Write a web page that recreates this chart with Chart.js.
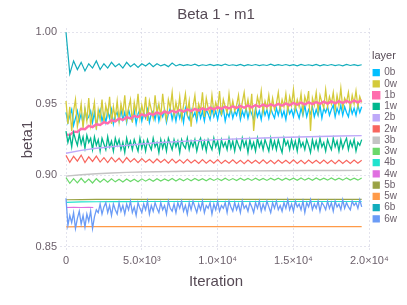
<!DOCTYPE html>
<html>
<head>
<meta charset="utf-8">
<script src="https://cdn.jsdelivr.net/npm/chart.js@4"></script>
<style>
  html, body { margin: 0; padding: 0; background: #fff; }
  #wrap { width: 407px; height: 305px; }
</style>
</head>
<body>
<div id="wrap"><canvas id="my-chart" width="407" height="305"></canvas></div>
<script>
// iterations for the very noisy series (every 125 steps)
const itersFine = [
  0, 125, 250, 375, 500, 625, 750, 875, 1000, 1125,
  1250, 1375, 1500, 1625, 1750, 1875, 2000, 2125, 2250, 2375,
  2500, 2625, 2750, 2875, 3000, 3125, 3250, 3375, 3500, 3625,
  3750, 3875, 4000, 4125, 4250, 4375, 4500, 4625, 4750, 4875,
  5000, 5125, 5250, 5375, 5500, 5625, 5750, 5875, 6000, 6125,
  6250, 6375, 6500, 6625, 6750, 6875, 7000, 7125, 7250, 7375,
  7500, 7625, 7750, 7875, 8000, 8125, 8250, 8375, 8500, 8625,
  8750, 8875, 9000, 9125, 9250, 9375, 9500, 9625, 9750, 9875,
  10000, 10125, 10250, 10375, 10500, 10625, 10750, 10875, 11000, 11125,
  11250, 11375, 11500, 11625, 11750, 11875, 12000, 12125, 12250, 12375,
  12500, 12625, 12750, 12875, 13000, 13125, 13250, 13375, 13500, 13625,
  13750, 13875, 14000, 14125, 14250, 14375, 14500, 14625, 14750, 14875,
  15000, 15125, 15250, 15375, 15500, 15625, 15750, 15875, 16000, 16125,
  16250, 16375, 16500, 16625, 16750, 16875, 17000, 17125, 17250, 17375,
  17500, 17625, 17750, 17875, 18000, 18125, 18250, 18375, 18500, 18625,
  18750, 18875, 19000, 19125, 19250, 19375, 19500
];
// iterations for the calmer series (every 250 steps)
const iterations = [
  0, 250, 500, 750, 1000, 1250, 1500, 1750, 2000, 2250,
  2500, 2750, 3000, 3250, 3500, 3750, 4000, 4250, 4500, 4750,
  5000, 5250, 5500, 5750, 6000, 6250, 6500, 6750, 7000, 7250,
  7500, 7750, 8000, 8250, 8500, 8750, 9000, 9250, 9500, 9750,
  10000, 10250, 10500, 10750, 11000, 11250, 11500, 11750, 12000, 12250,
  12500, 12750, 13000, 13250, 13500, 13750, 14000, 14250, 14500, 14750,
  15000, 15250, 15500, 15750, 16000, 16250, 16500, 16750, 17000, 17250,
  17500, 17750, 18000, 18250, 18500, 18750, 19000, 19250, 19500
];
// iterations for the smooth series
const itersCoarse = [0, 1000, 2000, 3000, 4000, 5000, 6000, 8000, 10000, 12000, 14000, 16000, 18000, 19500];
const itersShort = [0, 500, 1000, 1500, 1800];

const layers = ["0b", "0w", "1b", "1w", "2b", "2w", "3b", "3w", "4b", "4w", "5b", "5w", "6b", "6w"];

const beta0b = [
  0.944, 0.937, 0.942, 0.946, 0.935, 0.940, 0.945, 0.938, 0.943, 0.936,
  0.946, 0.939, 0.941, 0.945, 0.937, 0.944, 0.934, 0.942, 0.946, 0.938,
  0.943, 0.937, 0.945, 0.940, 0.946, 0.936, 0.942, 0.944, 0.938, 0.946,
  0.939, 0.944, 0.937, 0.946, 0.941, 0.938, 0.945, 0.936, 0.943, 0.946,
  0.938, 0.944, 0.940, 0.946, 0.937, 0.943, 0.945, 0.939, 0.947, 0.938,
  0.944, 0.941, 0.946, 0.937, 0.943, 0.947, 0.939, 0.945, 0.938, 0.946,
  0.940, 0.945, 0.937, 0.947, 0.942, 0.939, 0.946, 0.941, 0.944, 0.938,
  0.947, 0.940, 0.945, 0.938, 0.946, 0.943, 0.939, 0.947, 0.941, 0.945,
  0.939, 0.946, 0.942, 0.947, 0.938, 0.944, 0.941, 0.947, 0.940, 0.945,
  0.942, 0.948, 0.939, 0.945, 0.941, 0.947, 0.940, 0.946, 0.943, 0.939,
  0.947, 0.941, 0.945, 0.939, 0.948, 0.942, 0.946, 0.940, 0.947, 0.943,
  0.940, 0.947, 0.942, 0.948, 0.941, 0.945, 0.939, 0.948, 0.943, 0.946,
  0.941, 0.948, 0.944, 0.940, 0.947, 0.942, 0.949, 0.941, 0.946, 0.943,
  0.948, 0.941, 0.946, 0.942, 0.949, 0.940, 0.947, 0.944, 0.948, 0.942,
  0.946, 0.949, 0.941, 0.947, 0.943, 0.949, 0.942, 0.948, 0.944, 0.941,
  0.949, 0.943, 0.947, 0.942, 0.949, 0.944, 0.948
];
const beta0w = [
  0.952, 0.936, 0.948, 0.931, 0.945, 0.953, 0.934, 0.941, 0.950, 0.933,
  0.947, 0.938, 0.954, 0.935, 0.943, 0.951, 0.932, 0.946, 0.939, 0.953,
  0.937, 0.949, 0.942, 0.955, 0.936, 0.948, 0.940, 0.952, 0.938, 0.950,
  0.943, 0.956, 0.939, 0.947, 0.953, 0.937, 0.951, 0.944, 0.957, 0.940,
  0.949, 0.942, 0.955, 0.938, 0.952, 0.946, 0.940, 0.956, 0.943, 0.950,
  0.941, 0.957, 0.945, 0.939, 0.953, 0.947, 0.958, 0.942, 0.951, 0.944,
  0.955, 0.940, 0.949, 0.957, 0.943, 0.952, 0.934, 0.948, 0.956, 0.942,
  0.950, 0.945, 0.958, 0.941, 0.954, 0.947, 0.943, 0.956, 0.944, 0.951,
  0.946, 0.959, 0.942, 0.953, 0.948, 0.944, 0.957, 0.945, 0.952, 0.945,
  0.949, 0.956, 0.943, 0.951, 0.958, 0.946, 0.953, 0.944, 0.957, 0.931,
  0.945, 0.955, 0.949, 0.959, 0.944, 0.952, 0.947, 0.956, 0.945, 0.954,
  0.946, 0.950, 0.958, 0.946, 0.953, 0.948, 0.957, 0.945, 0.955, 0.949,
  0.960, 0.946, 0.953, 0.948, 0.957, 0.944, 0.955, 0.950, 0.959, 0.931,
  0.954, 0.949, 0.958, 0.945, 0.956, 0.951, 0.947, 0.960, 0.948, 0.955,
  0.950, 0.958, 0.946, 0.956, 0.949, 0.961, 0.947, 0.954, 0.951, 0.958,
  0.947, 0.956, 0.950, 0.959, 0.948, 0.955, 0.951
];
const beta1b = [
  0.9287, 0.9282, 0.9306, 0.9304, 0.9326, 0.9323, 0.9347, 0.9338, 0.9357, 0.9352,
  0.9372, 0.9363, 0.9387, 0.9378, 0.9397, 0.9388, 0.9407, 0.9398, 0.9417, 0.9408,
  0.9427, 0.9416, 0.9433, 0.9423, 0.9440, 0.9429, 0.9447, 0.9435, 0.9452, 0.9441,
  0.9457, 0.9445, 0.9461, 0.9449, 0.9465, 0.9453, 0.9469, 0.9457, 0.9473, 0.9461,
  0.9477, 0.9465, 0.9480, 0.9468, 0.9483, 0.9471, 0.9486, 0.9473, 0.9489, 0.9476,
  0.9492, 0.9479, 0.9495, 0.9482, 0.9497, 0.9485, 0.9500, 0.9487, 0.9503, 0.9490,
  0.9507, 0.9494, 0.9509, 0.9496, 0.9511, 0.9498, 0.9513, 0.9500, 0.9515, 0.9502,
  0.9517, 0.9504, 0.9519, 0.9506, 0.9521, 0.9508, 0.9523, 0.9510, 0.9524
];
const beta1w = [
  0.931, 0.923, 0.928, 0.920, 0.930, 0.925, 0.921, 0.929, 0.922, 0.927,
  0.919, 0.928, 0.923, 0.926, 0.918, 0.927, 0.921, 0.925, 0.917, 0.926,
  0.922, 0.918, 0.927, 0.920, 0.924, 0.917, 0.926, 0.921, 0.925, 0.918,
  0.923, 0.916, 0.926, 0.920, 0.924, 0.918, 0.925, 0.921, 0.917, 0.926,
  0.919, 0.924, 0.917, 0.925, 0.921, 0.918, 0.926, 0.920, 0.923, 0.916,
  0.925, 0.919, 0.924, 0.917, 0.926, 0.922, 0.918, 0.925, 0.920, 0.924,
  0.916, 0.925, 0.921, 0.919, 0.926, 0.918, 0.924, 0.920, 0.925, 0.917,
  0.923, 0.926, 0.919, 0.924, 0.917, 0.925, 0.921, 0.918, 0.926, 0.920,
  0.924, 0.916, 0.925, 0.920, 0.923, 0.918, 0.926, 0.919, 0.924, 0.917,
  0.925, 0.921, 0.918, 0.926, 0.920, 0.924, 0.916, 0.925, 0.919, 0.923,
  0.917, 0.926, 0.920, 0.924, 0.918, 0.925, 0.921, 0.917, 0.926, 0.919,
  0.924, 0.918, 0.925, 0.920, 0.916, 0.926, 0.921, 0.924, 0.918, 0.925,
  0.919, 0.924, 0.917, 0.926, 0.920, 0.923, 0.918, 0.925, 0.921, 0.916,
  0.925, 0.919, 0.924, 0.918, 0.926, 0.920, 0.923, 0.917, 0.925, 0.921,
  0.918, 0.926, 0.920, 0.924, 0.917, 0.925, 0.919, 0.923, 0.926, 0.918,
  0.924, 0.920, 0.925, 0.917, 0.923, 0.921, 0.925
];
const beta2b = [0.9155, 0.9175, 0.9190, 0.9200, 0.9210, 0.9220, 0.9228, 0.9240, 0.9250, 0.9258, 0.9265, 0.9270, 0.9275, 0.9278];
const beta2w = [
  0.9140, 0.9092, 0.9133, 0.9100, 0.9142, 0.9090, 0.9130, 0.9098, 0.9135, 0.9093,
  0.9124, 0.9090, 0.9126, 0.9095, 0.9120, 0.9088, 0.9125, 0.9094, 0.9118, 0.9089,
  0.9117, 0.9093, 0.9113, 0.9087, 0.9115, 0.9090, 0.9112, 0.9086, 0.9114, 0.9088,
  0.9110, 0.9085, 0.9112, 0.9087, 0.9108, 0.9084, 0.9111, 0.9086, 0.9107, 0.9085,
  0.9110, 0.9083, 0.9106, 0.9086, 0.9109, 0.9084, 0.9105, 0.9082, 0.9108, 0.9085,
  0.9106, 0.9083, 0.9109, 0.9084, 0.9105, 0.9082, 0.9108, 0.9085, 0.9106, 0.9083,
  0.9109, 0.9084, 0.9105, 0.9082, 0.9107, 0.9085, 0.9106, 0.9083, 0.9108, 0.9084,
  0.9105, 0.9082, 0.9107, 0.9084, 0.9106, 0.9083, 0.9108, 0.9085, 0.9106
];
const beta3b = [0.8995, 0.9005, 0.9012, 0.9017, 0.9021, 0.9024, 0.9026, 0.9029, 0.9031, 0.9032, 0.9033, 0.9034, 0.9034, 0.9035];
const beta3w = [
  0.8985, 0.8945, 0.8978, 0.8948, 0.8980, 0.8950, 0.8975, 0.8947, 0.8977, 0.8952,
  0.8974, 0.8953, 0.8976, 0.8955, 0.8973, 0.8954, 0.8975, 0.8957, 0.8974, 0.8956,
  0.8976, 0.8960, 0.8975, 0.8959, 0.8977, 0.8961, 0.8976, 0.8962, 0.8978, 0.8961,
  0.8977, 0.8963, 0.8978, 0.8962, 0.8979, 0.8964, 0.8977, 0.8963, 0.8979, 0.8965,
  0.8978, 0.8964, 0.8980, 0.8965, 0.8978, 0.8964, 0.8980, 0.8966, 0.8979, 0.8965,
  0.8981, 0.8966, 0.8979, 0.8965, 0.8981, 0.8967, 0.8980, 0.8966, 0.8981, 0.8967,
  0.8980, 0.8966, 0.8982, 0.8967, 0.8980, 0.8966, 0.8982, 0.8968, 0.8981, 0.8967,
  0.8982, 0.8968, 0.8981, 0.8967, 0.8983, 0.8968, 0.8981, 0.8967, 0.8982
];
const beta4b = [0.8812, 0.8815, 0.8816, 0.8817, 0.8817, 0.8818, 0.8818, 0.8818, 0.8818, 0.8818, 0.8818, 0.8818, 0.8818, 0.8818];
const beta4w = [0.8776, 0.8777, 0.8776, 0.8777, 0.8776];
const beta5b = [0.8830, 0.8831, 0.8832, 0.8832, 0.8832, 0.8832, 0.8832, 0.8832, 0.8832, 0.8832, 0.8832, 0.8832, 0.8832, 0.8832];
const beta5w = [0.8641, 0.8642, 0.8642, 0.8642, 0.8642, 0.8642, 0.8642, 0.8642, 0.8642, 0.8642, 0.8642, 0.8642, 0.8642, 0.8642];
const beta6b = [
  1.000, 0.971, 0.980, 0.974, 0.979, 0.973, 0.978, 0.975, 0.980, 0.974,
  0.978, 0.975, 0.979, 0.976, 0.978, 0.975, 0.979, 0.976, 0.978, 0.9755,
  0.978, 0.9765, 0.9785, 0.976, 0.978, 0.9765, 0.9775, 0.976, 0.9785, 0.9765,
  0.9776, 0.9767, 0.9774, 0.9768, 0.9777, 0.9766, 0.9773, 0.9768, 0.9776, 0.9767,
  0.9774, 0.9767, 0.9778, 0.9768, 0.9773, 0.9767, 0.9776, 0.9766, 0.9774, 0.9768,
  0.9775, 0.9767, 0.9773, 0.9768, 0.9777, 0.9767, 0.9774, 0.9768, 0.9775, 0.9767,
  0.9774, 0.9766, 0.9776, 0.9768, 0.9773, 0.9767, 0.9775, 0.9766, 0.9774, 0.9768,
  0.9775, 0.9767, 0.9773, 0.9766, 0.9775, 0.9768, 0.9774, 0.9767, 0.9773
];
const beta6w = [
  0.884, 0.865, 0.872, 0.867, 0.874, 0.863, 0.870, 0.875, 0.866, 0.872,
  0.864, 0.873, 0.868, 0.875, 0.863, 0.871, 0.876, 0.874, 0.880, 0.873,
  0.878, 0.881, 0.874, 0.879, 0.872, 0.880, 0.876, 0.873, 0.881, 0.875,
  0.879, 0.873, 0.880, 0.876, 0.882, 0.874, 0.878, 0.872, 0.881, 0.877,
  0.874, 0.880, 0.876, 0.882, 0.873, 0.879, 0.875, 0.881, 0.877, 0.874,
  0.881, 0.876, 0.879, 0.873, 0.882, 0.877, 0.875, 0.880, 0.874, 0.881,
  0.877, 0.882, 0.875, 0.879, 0.873, 0.881, 0.876, 0.882, 0.878, 0.874,
  0.880, 0.876, 0.882, 0.874, 0.879, 0.877, 0.881, 0.873, 0.880, 0.876,
  0.882, 0.875, 0.879, 0.877, 0.881, 0.874, 0.882, 0.878, 0.875, 0.881,
  0.876, 0.880, 0.874, 0.882, 0.877, 0.879, 0.875, 0.881, 0.878, 0.874,
  0.881, 0.877, 0.882, 0.875, 0.880, 0.876, 0.882, 0.878, 0.874, 0.881,
  0.877, 0.882, 0.876, 0.879, 0.875, 0.881, 0.877, 0.883, 0.876, 0.880,
  0.875, 0.882, 0.878, 0.880, 0.876, 0.882, 0.874, 0.881, 0.878, 0.883,
  0.876, 0.880, 0.877, 0.882, 0.875, 0.881, 0.879, 0.876, 0.882, 0.877,
  0.881, 0.875, 0.882, 0.878, 0.880, 0.876, 0.883, 0.877, 0.881, 0.878,
  0.876, 0.882, 0.879, 0.881, 0.877, 0.883, 0.878
];

const xTicks = [0, 5000, 10000, 15000, 20000];
const xTickLabels = ["0", "5.0×10³", "1.0×10⁴", "1.5×10⁴", "2.0×10⁴"];
const yTicks = [0.85, 0.90, 0.95, 1.00];
const yTickLabels = ["0.85", "0.90", "0.95", "1.00"];

// which x array goes with which layer
const seriesX = [itersFine, itersFine, iterations, itersFine, itersCoarse, iterations, itersCoarse,
  iterations, itersCoarse, itersShort, itersCoarse, itersCoarse, iterations, itersFine];
const seriesY = [beta0b, beta0w, beta1b, beta1w, beta2b, beta2w, beta3b,
  beta3w, beta4b, beta4w, beta5b, beta5w, beta6b, beta6w];

const colors = ["#00BFFF", "#D4CA3A", "#FF6DAE", "#00B78D", "#BEA9F9", "#F8665E", "#C4C4C4",
  "#6AD86A", "#20E3CE", "#E06FE0", "#9AA244", "#FF9A48", "#12ADBC", "#6A9BF6"];
// thicker strokes so the dense noise reads as a band
const widths = [1.3, 1.3, 2.4, 1.3, 1.4, 1.2, 1.4, 1.2, 1.2, 1.2, 1.2, 1.3, 1.2, 1.3];

const FONT = "'Liberation Sans', Helvetica, Arial, sans-serif";
const TEXT = "#564A55";
const TICK = "#6C606B";
const GRID = "#D7D7E6";

const datasets = layers.map((name, i) => ({
  label: name,
  data: seriesX[i].map((x, j) => ({ x, y: seriesY[i][j] })),
  borderColor: colors[i],
  backgroundColor: colors[i],
  borderWidth: widths[i],
  pointRadius: 0,
  tension: 0,
  fill: false,
  order: layers.length - i
}));

const ctx = document.getElementById("my-chart").getContext("2d");

const myChart = new Chart(ctx, {
  type: "line",
  data: { datasets },
  options: {
    responsive: false,
    animation: false,
    events: [],
    layout: { padding: 0 },
    scales: {
      x: {
        type: "linear",
        min: -396,
        max: 20178,
        afterBuildTicks: scale => { scale.ticks = xTicks.map(v => ({ value: v })); },
        afterFit: scale => { scale.height = 54; },
        ticks: {
          callback: (v, i) => xTickLabels[i],
          font: { family: FONT, size: 11 },
          color: TICK,
          padding: 3,
          maxRotation: 0,
          autoSkip: false
        },
        grid: { color: GRID, lineWidth: 0.7, drawTicks: false },
        border: { display: false, dash: [2, 2] },
        title: {
          display: true,
          text: "Iteration",
          font: { family: FONT, size: 15 },
          color: TEXT,
          padding: { top: 0, bottom: 14 }
        }
      },
      y: {
        type: "linear",
        min: 0.8472,
        max: 1.003,
        afterBuildTicks: scale => { scale.ticks = yTicks.map(v => ({ value: v })); },
        afterFit: scale => { scale.width = 60; },
        ticks: {
          callback: (v, i) => yTickLabels[i],
          font: { family: FONT, size: 11 },
          color: TICK,
          padding: 3
        },
        grid: { color: GRID, lineWidth: 0.7, drawTicks: false },
        border: { display: false, dash: [2, 2] },
        title: {
          display: true,
          text: "beta1",
          font: { family: FONT, size: 15 },
          color: TEXT,
          padding: { top: 19, bottom: 0 }
        }
      }
    },
    plugins: {
      tooltip: { enabled: false },
      title: {
        display: true,
        text: "Beta 1 - m1",
        fullSize: false,
        font: { family: FONT, size: 15, weight: "normal" },
        color: TEXT,
        padding: { top: 6, bottom: 4 }
      },
      legend: {
        position: "right",
        align: "start",
        fullSize: false,
        labels: {
          boxWidth: 6,
          boxHeight: 6,
          padding: 1.25,
          font: { family: FONT, size: 10 },
          color: TICK,
          sort: (a, b) => a.datasetIndex - b.datasetIndex
        },
        title: {
          display: true,
          text: "layer",
          position: "start",
          font: { family: FONT, size: 11 },
          color: TEXT,
          padding: { top: 22.5, bottom: 2.75 }
        }
      }
    }
  }
});
</script>
</body>
</html>
